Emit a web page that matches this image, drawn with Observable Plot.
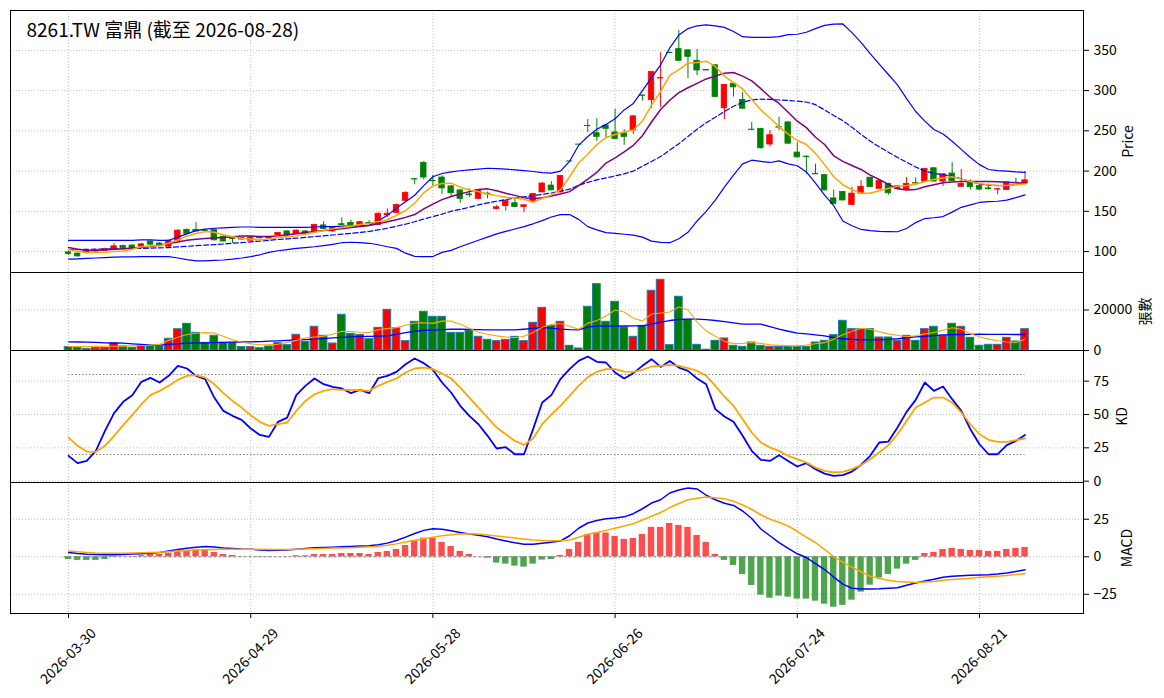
<!DOCTYPE html>
<html><head><meta charset="utf-8">
<script src="https://cdn.jsdelivr.net/npm/d3@7"></script>
<script src="https://cdn.jsdelivr.net/npm/@observablehq/plot@0.6"></script>
<style>
body{margin:0;background:#fff;}
#wrap{position:relative;width:1164px;height:698px;overflow:hidden;background:#fff}
#wrap svg{position:absolute;left:0;max-width:none}
</style></head><body><div id="wrap"></div>
<script>
const title = "8261.TW 富鼎 (截至 2026-08-28)";
const tickIndex = [0, 20, 40, 60, 80, 100];
const tickLabels = ["2026-03-30", "2026-04-29", "2026-05-28", "2026-06-26", "2026-07-24", "2026-08-21"];

const opens = [99,97.5,100,100,101,103,107,107.5,106,112.5,110,106,113.5,127,127,126,127,118.5,117,117,113.5,117,117,120,125,122,125,125,132.5,125,134,135.5,132.5,135.5,133,145,148,163,190,210,188,192,181,176,171,165.5,172,153,156.5,160,155.5,162.5,173.5,182,173.5,212,233,256,247,256.5,248,247,250.5,294,288,315,347,351.5,350,337,325.5,331.5,278,308.5,288.5,251.5,252.5,233,254.5,260.5,223,218,196.5,195,166,174,158,172,191.8,178,184,178,177,185,187,203.5,187,197,180.5,185.5,181.5,178.5,177,176.5,185.5,184.5];
const highs = [100,98,101,102,104,110,108,108.5,110,113,111,114,127,128,136,128,128,119.5,118,118,118.5,118.5,118,124,126,127,126,134,137,131,142,139,137.5,138.5,148,153,159,174,190.5,212,195,194,182,177,178,177,174,157,164,165.5,158,172,186,187,194.5,212.5,233.5,264,265,257,277,251.5,268.5,294.5,323.5,347,347.5,374.6,350.5,351,326,332,307.5,309,297.5,260.5,253,250.5,267,261,235,219,208.5,195.5,176.5,174.5,180,188,192,188,185,182,192,191.5,203.5,204,196.5,210.5,202,189,183,184,178,187,191,199.5];
const lows = [95,93,97,99,100,102,103.5,104,105,108,106,105.5,113,121,124.5,124,113,112,110,114,113,115.5,115.5,119.5,119,121,121.5,124,127.5,124,132.5,132,132,134,132.5,142,147.5,162,183,189,182,171,168,160,167,165,165.5,152,150.4,155,148.5,162,173,175.5,173,211.5,232.5,248,237,241,239.5,232,245.5,287,278,279,346,336.5,315,318.5,324.5,291.5,264,292,277,250.5,227.5,230,250.5,233.5,216.5,195.5,195.5,175.5,158.5,163,157.5,171.5,179.5,177.5,170,177,176.5,184,186.5,186.5,181,187,180,176.5,176,176.5,170.5,176,184.5,184];
const closes = [97,94,98,101.5,103,106.5,104.5,104.5,109,108.5,106.5,113.5,126,122,125,125.5,114,112.5,115.5,115,117.5,116.5,116.5,123,120,126,122,133,128,130,133,132.5,136.5,134.5,147,147,158,173,189.5,192,187.5,178.5,172.5,165.5,170,176,171,155,163,155.5,157.5,171.5,184.5,176,194,211.8,232.8,255.8,242.5,252.5,240,242.5,268,293.5,323,315.5,346.5,337,342,325,325,292,307,304,277.5,251,228.3,244.5,254,234,217,217.5,196,176,159,163.5,172,180.5,180,187.5,172.5,181,184,184.5,202.5,187,196,187.5,184,180,177,177.5,177.5,186,185,188.5];

const ma5 = [102.5,100.5,98.8,99,99.2,100,100.8,103,106,107,107.4,110.3,114.5,119,122.5,124.8,124,121,118.5,116.5,115.5,114.5,115.5,117.5,118.5,119.5,121.5,124,126,128.5,130,131.5,133.5,135,137.5,139.5,145,151,160,173,181.5,184.5,185,180,176.5,174.5,171.5,169.5,167.5,166.5,165,161.5,166,170.5,176.5,193,210,221,233,241.5,245.5,248.5,251,262,282,299,319,326,334,335,336.5,330,318,310,302,289,276,266,255,246,238,233,222,208,193,183,177,172.5,172.5,175.5,178.5,181,182,183.5,187,189.5,191.5,193,190,187,184.5,183,182,182,183,184];
const ma10 = [105,103,101.2,101.5,102,102.9,103.5,104.3,105.2,106.2,108,110,112,114,115.3,116.2,117,117.6,118.5,119.3,119.2,118.8,118.6,119.5,120.8,122,123.6,125,126.3,127.5,128.5,129.8,131,132.5,134.5,137,139.5,142.5,146,153,159,164.5,168.5,171.5,174.5,177,177.9,175.5,172.5,169.8,167,165.7,167,169,171.5,174.5,182,190,198.5,210,216.5,224,232,244,261,276.5,288,297.5,303.5,309,314.5,318,321.5,322.5,318,312,302.5,292,284,273,262,254,242,233,219,212,207,202,195,189.5,183.5,178,176.6,177,180.5,183,185.5,186.5,187,187.2,187.2,187,186.8,186.2,185.5,184.8];
const ma20 = [102.5,102.6,102.8,103,103.2,103.4,103.6,103.8,104,104.3,104.6,105,105.8,106.5,107.3,108,108.6,109.4,110.3,111.2,112,113,114,115,115.8,116.7,117.6,118.6,119.6,120.6,121.6,122.7,123.8,125,127,129,131.5,134,137,140.5,143.5,146.5,150,152.5,155,158,160.5,162.5,164.5,166.5,168,169.5,171,172.8,175,177.5,182.5,186,189,191.5,194,196.5,200,206,212,218,226,234,243,252,260,267,274,280.5,285.5,288.5,289.3,289,288.3,287.7,286.8,285.8,282.5,276,269,262.6,254.5,245.5,237.3,230,223.5,217,211,205,200,197,195.5,193.5,190.5,187,184,182.5,182,182,183,184.8];
const bbUpper = [114,114,114,114,114,114,114,114,114.5,114.5,114,114,118,122,126,128,129,129.5,130,130.5,130.5,130,130,130,130,130,130,130.5,131,131,131.5,131.5,132,133,138,145,154,162,170,182,193,197,199,200.4,201.5,202.5,203.5,203,202.5,201.5,200.5,199.5,198,197.5,200,212,232,243,252,258,265,276,284,300,316,332,353,369,377,380.5,381.6,380.5,378.5,373.5,367,366,366,366,367,369.5,370,372.5,377,381,382.5,382.8,372,360,346,333,320,307,290,274,262,251.6,246,237,227,216.8,208,202,200.6,200,199,198.4];
const bbLower = [90.5,91,91.5,92,92.5,93,93.3,93.5,93.7,93.8,93.8,93.8,92,90,88.5,88.5,89,89.5,90.5,92,93.8,96,99,101,102.5,104,105,106,107.5,109,111,111.6,111,110.3,108.5,106,104,98,94,93.8,93.8,99,101.5,106,110,114,118,122,125,128,131,134.5,138.5,143,146,146,140,131,127,123.5,122.5,121.5,120.5,118,113,111.5,111,116,124,138,150,164,180,195,209,213.5,212,210.7,212.7,209,206.6,199,185,170,157,138,132,127.5,126,125,124.8,124.6,128.7,136,141,142,143.5,149,155,158,161,162,162.5,164,167,170.5];

const volume = [1650,1300,820,1300,1300,3450,2000,1300,2300,2300,2000,5760,10500,13170,8720,3790,7240,3790,3790,1650,1650,1150,1975,3620,2630,7740,4280,11690,7240,3460,17610,8230,7740,5600,11190,20080,11030,4610,14160,19090,16620,16620,8720,8720,9710,6750,5270,4610,5270,6750,4610,13660,21070,12180,14160,2300,990,21560,32760,14160,24030,11360,6750,12180,29460,34900,2630,26500,15140,2800,400,4770,5930,2300,1810,3950,2300,1810,1810,1810,1810,1810,3950,4770,7570,14650,10530,10530,10530,6420,6420,4770,7240,4770,10530,11690,7240,13170,11690,6250,2300,2800,2800,6250,4440,10530];
const volMa5 = [1975,2000,2000,2050,2100,2120,2140,2300,2450,2600,3000,5000,6500,7900,8500,8800,8600,7000,5300,4200,3300,2800,2900,3100,4000,5000,6200,6700,7100,8000,9500,9400,9000,8890,10300,10800,11300,12500,13600,13700,13400,14500,14500,13000,11000,9000,8000,7200,6700,6300,7000,8900,11500,12800,13300,12000,10500,13500,14800,17000,20000,19000,16000,14500,18000,18500,19000,21500,20000,14000,9710,7000,4500,3400,3500,3950,3500,2800,2600,2400,2300,2700,3300,3900,5500,7800,9500,11000,10500,9300,8200,7500,6800,7300,8200,8900,10000,11200,10500,8300,6800,5600,4800,4200,4000,5600];
const volMa20 = [4300,4200,4100,4000,3800,3700,3600,3300,3000,2700,2700,3000,3300,3600,3700,3800,3900,4000,4100,4200,4280,4400,4600,4800,5000,5200,5400,5600,5900,6200,6500,6750,6900,7000,7100,7240,8000,8800,9500,9900,10100,10300,10500,10500,10400,10300,10200,10200,10200,10200,10500,10900,11250,11000,10600,10300,10200,11500,12000,12000,12000,12100,12150,12200,13000,14000,14800,15300,15470,15470,15200,14800,14300,13600,13000,13000,13000,11800,10500,9500,8600,8200,7700,7200,6300,5800,5500,5270,5270,5300,5500,5800,6300,6700,7000,7300,7700,7800,7900,8000,8070,8000,8000,7950,7900,7900];

const kValues = [19,13.5,15.2,22.7,37.7,51,59.5,64.5,74.5,77.5,74,79,86.5,84.5,79,76.5,62.7,52.7,49,46,39.5,34.7,33.2,44.5,47.7,64.5,71.5,77,72.7,70.7,69.5,66,68.5,66,77.2,79,82,87.7,92,88.5,83.5,74,66.5,56.5,49,42.7,34,24.5,25.5,20.2,20.2,39,59,64.5,76.5,84,90.2,93.5,89.5,89,81.5,77,81,86.5,91.5,85.7,90.2,85.2,82.7,77,72.7,54,48.5,44.5,34,22.7,16,15.2,19.5,15.2,11,13.5,9,5.7,4,4.5,7.2,12.2,19,29,29.7,40.2,52,61,74,67.7,71,61.5,52.7,39,27.7,20.2,20.2,27,30.2,34.7];
const dValues = [32.7,26.5,22.2,22,26.5,34,42,49.5,57.7,64.5,67.7,71.5,76,79,79.5,77.7,72.7,66,60.2,55.2,49.5,44.5,41.5,42.7,44,52.7,60.2,65.2,67.7,69,68.5,68.5,68.2,67.7,71.5,74.5,77,81.5,84.5,85.2,84,80.7,77,70.2,62.7,55.2,47.7,40.2,35.2,30.2,27.2,32,42.7,50,56.5,64,71.5,78,82,84,84,82.2,82,83.5,86,86.5,87.2,86.5,84.7,82.7,79,71.5,63.5,56.5,46.5,36.5,29,25.2,22.7,19,16.5,14,10.2,7.7,6.5,7,9,12,16.5,21.5,27,35.2,45.2,55.2,59,62.7,62.7,59,51.5,42.7,35.2,31,29.5,29.5,30.7,32];

const dif = [2.9,2.2,1.7,1.5,1.4,1.3,1.5,1.8,2.1,2.4,2.9,3.8,4.8,5.7,6.4,6.9,6.5,5.8,5.5,5.2,5.1,4.5,4.2,4.3,4.6,5,5.5,6,6.2,6.4,6.7,6.9,7.1,7.3,8,9.1,10.8,13.1,15.5,17.6,18.7,18.3,17.3,16.2,15.2,14.4,13.4,11.8,10.5,9.3,8.4,8.4,9,9.7,10.5,14,19,22.5,24.2,25.4,25.9,26.6,28.7,32,35.8,38,42.5,44.5,45.8,45.2,41,38,35.7,34.2,30.5,25.5,18.5,14,9.5,5.6,2,-0.5,-4.5,-8.5,-13.5,-18.2,-21,-21.5,-21.4,-21.3,-21,-20.7,-19,-17.5,-16.2,-15,-13.6,-13,-12.6,-12.3,-12.2,-12,-11.5,-10.8,-9.8,-8.7];
const dea = [3.8,3.3,2.9,2.5,2.4,2.4,2.4,2.5,2.7,2.9,3.1,3.4,3.8,4.2,4.5,4.7,4.9,5,5.1,5.1,5.1,5,4.9,4.9,4.9,5,5.2,5.4,5.6,5.8,5.9,6,6.3,6.6,7,7.7,8.6,9.8,11,12,13.1,14,14.7,15.2,15.3,15.1,14.5,13.9,13.2,12.5,11.8,11.2,10.8,10.6,10.7,11.2,13,15,16.2,17.6,19,20.5,22,24.5,27,29.5,32.8,35.5,38,39,39.8,39.3,38.7,37,34.5,31.5,28,25,23,20.5,17,13,9.5,5,0,-3.5,-7,-10,-13,-14.5,-15.7,-16.4,-16.8,-17.1,-16.8,-16.4,-15.6,-15.2,-14.8,-14.3,-13.7,-13.3,-12.9,-12.4,-11.8,-11.3];
const hist = [-1.8,-2.4,-2.4,-2.4,-1.8,-0.3,0,0.2,0.7,1.5,1.5,2.4,3.5,4.2,4.7,4.7,2.9,1.5,0.9,0.1,0,-0.2,-0.2,0,0.1,0.7,0.7,1.5,1.5,1.5,2.2,2.2,2.2,1.5,2.9,3.5,4.9,7.5,10.7,12.4,12.4,9.6,6.9,3.6,1.6,0,-0.9,-4.2,-4.9,-6.2,-6.9,-4.9,-2.2,-1.8,0.9,4.9,9.6,14.9,15.8,15.8,13.6,11.6,12.2,14.9,19.6,19.6,22.2,20.9,19.6,14.2,9.6,1.6,-2.4,-5.8,-11.8,-19.1,-25.6,-27.6,-26.2,-26.9,-28.2,-28.2,-29.6,-31.6,-33.6,-32.4,-28.9,-23.6,-18.9,-14.2,-11.8,-8.2,-4.9,-2.4,2.2,2.9,4.9,5.6,4.9,4.2,4.2,3.6,3.6,4.9,5.6,6.2];

const priceTicks = [100, 150, 200, 250, 300, 350];
const volTicks = [0, 20000];
const kdTicks = [0, 25, 50, 75];
const kdRefs = [20, 80];
const macdTicks = [-25, 0, 25];

const FONT = '"Noto Sans CJK TC","Noto Sans",sans-serif';
const W = 1164, ML = 10, MR = 81;
const xDomain = [-6.37, 111.42];
const idx = d3.range(closes.length);
const lastIdx = idx.length - 1;
const candleColor = i => closes[i] >= opens[i] ? "#ff0000" : "#008000";
const gridStyle = {stroke: "#b0b0b0", strokeDasharray: "1,2", strokeWidth: 0.8};
const fmt = d => d < 0 ? "\u2212" + Math.abs(d) : String(d);
const wrap = document.getElementById("wrap");

function panel({top, height, mt, mb, yDomain, yTicks, label, labelDx, marks, extra = []}) {
  const svg = Plot.plot({
    width: W, height, marginLeft: ML, marginRight: MR, marginTop: mt, marginBottom: mb,
    style: {background: "transparent", fontFamily: FONT, fontSize: "14px", color: "#000", overflow: "visible"},
    x: {domain: xDomain, axis: null},
    y: {domain: yDomain, axis: null},
    marks: [
      Plot.ruleX(tickIndex, gridStyle),
      Plot.ruleY(yTicks, gridStyle),
      ...marks,
      Plot.frame({stroke: "#000", strokeWidth: 1}),
      Plot.axisY(yTicks, {anchor: "right", tickSize: 5, tickPadding: 5, fontSize: 14, label: null, tickFormat: fmt}),
      Plot.text([label], {text: d => d, frameAnchor: "right", dx: labelDx, rotate: -90, fontSize: 14, textAnchor: "middle", lineAnchor: "middle"}),
      ...extra
    ]
  });
  svg.style.top = top + "px";
  wrap.appendChild(svg);
}

const line = (arr, stroke, w, dash) => Plot.line(idx, {x: d => d, y: d => arr[d], stroke, strokeWidth: w, strokeDasharray: dash});

// Price panel
panel({
  top: 0, height: 273, mt: 10, mb: 1, yDomain: [74, 399.5], yTicks: priceTicks, label: "Price", labelDx: 45,
  marks: [
    Plot.ruleX(idx, {x: d => d, y1: d => lows[d], y2: d => highs[d], stroke: candleColor, strokeWidth: 1}),
    Plot.rect(idx, {x1: d => d - 0.3, x2: d => d + 0.3, y1: d => Math.min(opens[d], closes[d]), y2: d => Math.max(opens[d], closes[d]), fill: candleColor, stroke: candleColor, strokeWidth: 0.8}),
    line(bbUpper, "#0000ff", 1.2),
    line(bbLower, "#0000ff", 1.2),
    line(ma20, "#0000ff", 1.2, "5,2.5"),
    line(ma10, "#800080", 1.5),
    line(ma5, "#ffa500", 1.5),
    Plot.text([title], {text: d => d, frameAnchor: "top-left", dx: 16, dy: 20, textAnchor: "start", lineAnchor: "middle", fontSize: 19})
  ]
});

// Volume panel
panel({
  top: 271, height: 80, mt: 1, mb: 1, yDomain: [0, 38500], yTicks: volTicks, label: "張數", labelDx: 62,
  marks: [
    Plot.rect(idx, {x1: d => d - 0.42, x2: d => d + 0.42, y1: 0, y2: d => volume[d], fill: candleColor, stroke: "#1f77b4", strokeWidth: 1}),
    line(volMa20, "#0000ff", 1.3),
    line(volMa5, "#ffa500", 1.1)
  ]
});

// KD panel
panel({
  top: 349, height: 134, mt: 1, mb: 1, yDomain: [-1, 98], yTicks: kdTicks, label: "KD", labelDx: 39,
  marks: [
    Plot.ruleY(kdRefs, {x1: 0, x2: lastIdx, stroke: "#808080", strokeDasharray: "1.5,2", strokeWidth: 1}),
    line(kValues, "#0000ff", 1.8),
    line(dValues, "#ffa500", 1.8)
  ]
});

// MACD panel
panel({
  top: 481, height: 217, mt: 1, mb: 85, yDomain: [-37.8, 49.5], yTicks: macdTicks, label: "MACD", labelDx: 44,
  marks: [
    Plot.rect(idx, {x1: d => d - 0.35, x2: d => d + 0.35, y1: 0, y2: d => hist[d], fill: d => hist[d] >= 0 ? "#ff0000" : "#008000", fillOpacity: 0.7}),
    Plot.ruleY([0], {x1: -0.5, x2: lastIdx + 0.5, stroke: "#808080", strokeDasharray: "3,2", strokeWidth: 1}),
    line(dif, "#0000ff", 1.5),
    line(dea, "#ffa500", 1.5)
  ],
  extra: [
    Plot.axisX(tickIndex, {anchor: "bottom", tickSize: 5, tickFormat: () => "", label: null}),
    Plot.text(tickIndex, {x: d => d, text: (d, i) => tickLabels[i], frameAnchor: "bottom", dy: 43, rotate: -45, textAnchor: "middle", lineAnchor: "middle", fontSize: 14})
  ]
});
</script></body></html>
